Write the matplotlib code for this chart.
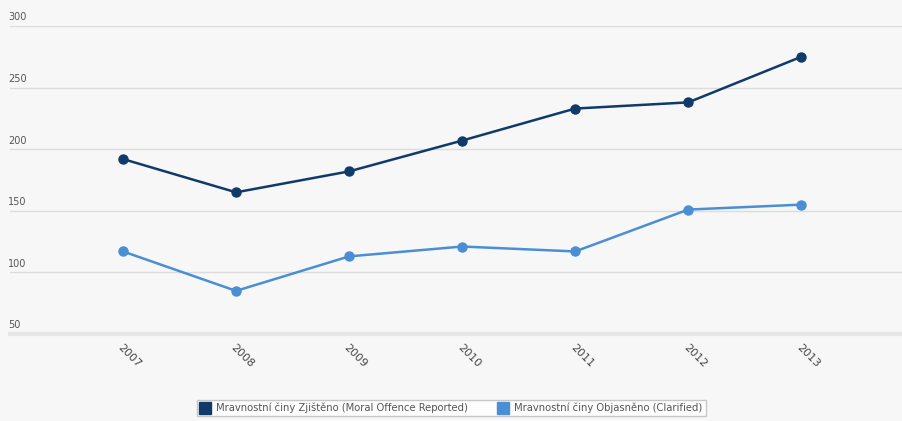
import matplotlib

matplotlib.use("Agg")
import matplotlib.pyplot as plt  # noqa: E402
from matplotlib.lines import Line2D  # noqa: E402
from matplotlib.transforms import blended_transform_factory  # noqa: E402

years = [2007, 2008, 2009, 2010, 2011, 2012, 2013]
reported = [192, 165, 182, 207, 233, 238, 275]
clarified = [117, 85, 113, 121, 117, 151, 155]
y_ticks = [50, 100, 150, 200, 250, 300]
series_names = [
    "Mravnostní činy Zjištěno (Moral Offence Reported)",
    "Mravnostní činy Objasněno (Clarified)",
]

DARK = "#0f3a6a"
LIGHT = "#4a8fd4"
BG = "#f7f7f7"

fig = plt.figure(figsize=(9.03, 4.21), dpi=100, facecolor=BG)
ax = fig.add_axes([10 / 903, 1 - 334 / 421, 893 / 903, (334 - 26) / 421])
ax.set_facecolor(BG)

for values, color in zip([reported, clarified], [DARK, LIGHT]):
    ax.plot(years, values, color=color, lw=1.8, marker="o", ms=6.5,
            clip_on=False, zorder=3)

ax.set_xlim(2006, 2013.9)
ax.set_ylim(50, 300)
ax.set_yticks(y_ticks)
ax.grid(axis="y", color="#dcdcdc", lw=1)
ax.tick_params(axis="y", left=False, labelleft=False)
ax.tick_params(axis="x", bottom=False, labelbottom=False)
for side in ["top", "right", "left"]:
    ax.spines[side].set_visible(False)
ax.spines["bottom"].set_color("#e6e6e6")
ax.spines["bottom"].set_linewidth(3)

trans = blended_transform_factory(ax.transAxes, ax.transData)
for t in y_ticks:
    ax.text(-0.002, t + 3, str(t), transform=trans, ha="left", va="bottom",
            fontsize=7, color="#555555")

xtrans = blended_transform_factory(ax.transData, ax.transAxes)
for yr in years:
    ax.text(yr - 0.03, -0.04, str(yr), transform=xtrans, rotation=-45,
            rotation_mode="anchor", ha="left", va="center",
            fontsize=8, color="#444444")

handles = [
    Line2D([], [], marker="s", ls="", color=c, ms=8)
    for c in [DARK, LIGHT]
]
leg = fig.legend(handles, series_names, loc="lower center",
                 bbox_to_anchor=(0.5, 0.0), ncol=2, fontsize=7.2,
                 frameon=True, fancybox=False, edgecolor="#bbbbbb",
                 handletextpad=0.6, columnspacing=3.0,
                 borderpad=0.3, handlelength=1)
leg.get_frame().set_facecolor("white")
for txt in leg.get_texts():
    txt.set_color("#555555")

fig.savefig("out.png", dpi=100, facecolor=BG)
